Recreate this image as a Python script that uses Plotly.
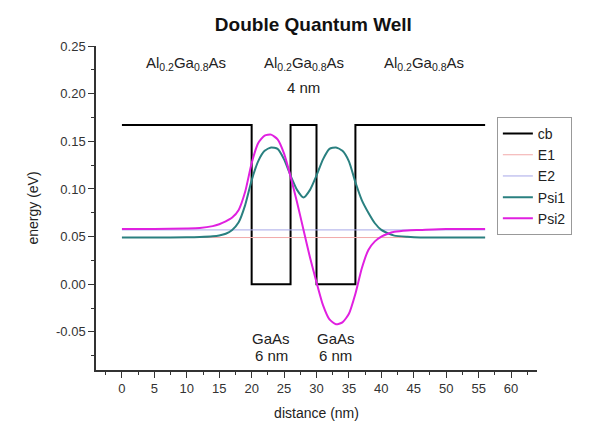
import plotly.graph_objects as go

# conduction band profile
cb_x = [0, 20, 20, 26, 26, 30, 30, 36, 36, 56]
cb_y = [0.167, 0.167, 0.0, 0.0, 0.167, 0.167, 0.0, 0.0, 0.167, 0.167]

# energy levels
e_x = [0, 56]
e1_y = [0.049, 0.049]
e2_y = [0.057, 0.057]

# wavefunctions
psi_x = [0, 5, 10, 12, 14, 15, 16, 17, 18, 19, 20, 21, 22, 23, 24, 25, 26, 27, 28,
         29, 30, 31, 32, 33, 34, 35, 36, 37, 38, 39, 40, 41, 42, 44, 46, 50, 56]
psi1_y = [0.049, 0.049, 0.0492, 0.0495, 0.0503, 0.0512, 0.053, 0.057, 0.065, 0.083,
          0.109, 0.129, 0.140, 0.1435, 0.142, 0.131, 0.114, 0.099, 0.091,
          0.099, 0.114, 0.131, 0.142, 0.1435, 0.140, 0.129, 0.107, 0.088, 0.075,
          0.064, 0.057, 0.0535, 0.051, 0.0497, 0.049, 0.049, 0.049]
psi2_y = [0.058, 0.058, 0.0585, 0.059, 0.061, 0.063, 0.066, 0.070, 0.078, 0.097,
          0.127, 0.148, 0.156, 0.157, 0.152, 0.137, 0.113, 0.086, 0.057,
          0.028, 0.002, -0.022, -0.037, -0.042, -0.040, -0.031, -0.010, 0.017, 0.036,
          0.045, 0.050, 0.053, 0.055, 0.0565, 0.057, 0.058, 0.058]

x_ticks = [0, 5, 10, 15, 20, 25, 30, 35, 40, 45, 50, 55, 60]
y_ticks = [-0.05, 0.00, 0.05, 0.10, 0.15, 0.20, 0.25]
y_ticktext = ["-0.05", "0.00", "0.05", "0.10", "0.15", "0.20", "0.25"]

fig = go.Figure()
fig.add_trace(go.Scatter(x=cb_x, y=cb_y, mode="lines", name="cb",
                         line=dict(color="black", width=2)))
fig.add_trace(go.Scatter(x=e_x, y=e1_y, mode="lines", name="E1",
                         line=dict(color="#f2aaaa", width=1)))
fig.add_trace(go.Scatter(x=e_x, y=e2_y, mode="lines", name="E2",
                         line=dict(color="#a8a8e8", width=1)))
fig.add_trace(go.Scatter(x=psi_x, y=psi1_y, mode="lines", name="Psi1",
                         line=dict(color="#2a8080", width=2, shape="spline", smoothing=0.6)))
fig.add_trace(go.Scatter(x=psi_x, y=psi2_y, mode="lines", name="Psi2",
                         line=dict(color="#e020e0", width=2, shape="spline", smoothing=0.6)))

al = "Al<sub>0.2</sub>Ga<sub>0.8</sub>As"
ann_font = dict(family="Liberation Sans, Arial, sans-serif", size=15, color="#222")
annotations = [
    dict(x=9.8, y=0.232, text=al),
    dict(x=28, y=0.232, text=al),
    dict(x=28, y=0.206, text="4 nm"),
    dict(x=46.6, y=0.232, text=al),
    dict(x=23, y=-0.057, text="GaAs"),
    dict(x=23, y=-0.075, text="6 nm"),
    dict(x=33, y=-0.057, text="GaAs"),
    dict(x=33, y=-0.075, text="6 nm"),
]
for a in annotations:
    a.update(xref="x", yref="y", showarrow=False, font=ann_font)

fig.update_layout(
    width=593, height=430,
    margin=dict(l=88, r=64, t=38, b=68, autoexpand=False),
    paper_bgcolor="white", plot_bgcolor="white",
    font=dict(family="Liberation Sans, Arial, sans-serif", size=12, color="#333"),
    title=dict(text="<b>Double Quantum Well</b>", x=0.515, xanchor="center",
               y=0.962, yanchor="middle",
               font=dict(size=19, color="#111")),
    showlegend=True,
    legend=dict(x=0.909, y=0.781, xanchor="left", yanchor="top",
                bordercolor="#999", borderwidth=1, bgcolor="white",
                font=dict(size=14, color="#222"), tracegroupgap=0,
                itemwidth=30),
    annotations=annotations,
    xaxis=dict(range=[-4, 64], tickvals=x_ticks, ticks="outside", ticklen=6,
               tickcolor="#333", showline=True, linecolor="#333", linewidth=1.5,
               showgrid=False, zeroline=False, automargin=False,
               minor=dict(dtick=2.5, tick0=0, ticks="outside", ticklen=3,
                          tickcolor="#333", showgrid=False),
               title=dict(text="distance (nm)", font=dict(size=14, color="#222"),
                          standoff=13),
               tickfont=dict(size=13, color="#333")),
    yaxis=dict(range=[-0.09, 0.25], tickvals=y_ticks, ticktext=y_ticktext,
               ticks="outside", ticklen=6, tickcolor="#333",
               showline=True, linecolor="#333", linewidth=1.5,
               showgrid=False, zeroline=False, automargin=False,
               minor=dict(dtick=0.025, tick0=0, ticks="outside", ticklen=3,
                          tickcolor="#333", showgrid=False),
               title=dict(text="energy (eV)", font=dict(size=14, color="#222"),
                          standoff=14),
               tickfont=dict(size=13, color="#333")),
)

fig.write_html("out.html")
